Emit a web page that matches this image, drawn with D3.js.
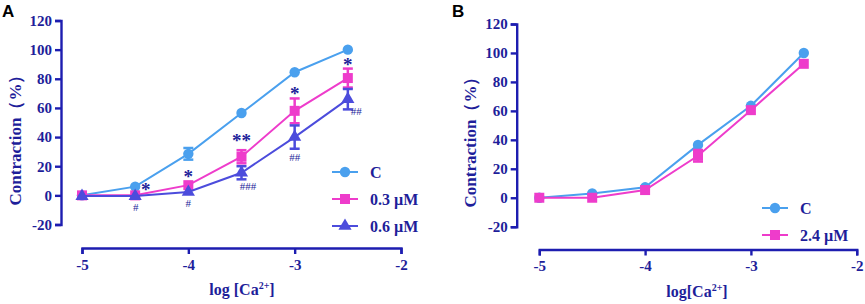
<!DOCTYPE html>
<html>
<head>
<meta charset="utf-8">
<script src="https://cdn.jsdelivr.net/npm/d3@7"></script>
<style>
  body { margin: 0; background: #fff; }
  svg text { font-family: "Liberation Serif", "Times New Roman", serif; font-weight: bold; }
</style>
</head>
<body>
<div id="chart"></div>
<script>
// log[Ca2+] concentrations
var logCa = [-5, -4.5, -4, -3.5, -3, -2.5];
var xTicks = [-5, -4, -3, -2];
var yTicks = [-20, 0, 20, 40, 60, 80, 100, 120];

// panel A series (mean, error)
var aControl = [0, 6, 28.5, 56.5, 84.5, 100];
var aControlErr = [0, 0, 4, 0, 0, 0];
var a03 = [0, 0, 7, 26.5, 58, 80.5];
var a03Err = [0, 0, 0, 4.5, 8.5, 6.5];
var a06 = [-0.5, -0.5, 2.3, 15.5, 40, 66];
var a06Err = [0, 0, 0, 4.5, 8, 7];

// panel B series
var bControl = [0, 3, 7.2, 36.5, 63.5, 100];
var b24 = [0, 0, 5.3, 29, 60.5, 92.5];
var b24Err = [0, 0, 0, 4, 0, 0];

// significance marks, [text, x, y] in data units
var starMarks = [["*", -2.5, 91.8], ["*", -3, 71.7], ["**", -3.5, 40], ["*", -4, 15.3], ["*", -4.4, 5.8]];
var hashMarks = [["##", -2.42, 57.4], ["##", -3, 26.4], ["###", -3.44, 6], ["#", -4, -5.2], ["#", -4.495, -8]];

var navy = "#1e1e9a";
var axisBlue = "#1d1db0";
var cBlue = "#4aa0ee";
var pink = "#ee3ccb";
var violet = "#4c4cdc";
var serif = "'Liberation Serif', 'Times New Roman', serif";

var svg = d3.select("#chart").append("svg")
  .attr("width", 865)
  .attr("height", 304);

function drawPanel(opt) {
  var x = d3.scaleLinear().domain([-5, -2]).range(opt.xRange);
  var y = d3.scaleLinear().domain([-20, 120]).range(opt.yRange);
  var g = svg.append("g");

  // y axis, offset left of plot
  var yAx = g.append("g")
    .attr("transform", "translate(" + opt.yAxisX + ",0)")
    .call(d3.axisLeft(y).tickValues(yTicks).tickSize(6).tickPadding(3).tickFormat(function (d) { return String(d); }));
  // x axis, offset below plot
  var xAx = g.append("g")
    .attr("transform", "translate(0," + opt.xAxisY + ")")
    .call(d3.axisBottom(x).tickValues(xTicks).tickSize(6).tickPadding(5).tickFormat(function (d) { return String(d); }));

  [yAx, xAx].forEach(function (ax) {
    ax.attr("font-family", serif).attr("font-size", 15).attr("font-weight", "bold");
    ax.select(".domain").attr("stroke", axisBlue).attr("stroke-width", 2.4);
    ax.selectAll(".tick line").attr("stroke", axisBlue).attr("stroke-width", 2.4);
    ax.selectAll(".tick text").attr("fill", navy);
  });

  // y label
  g.append("text")
    .attr("transform", "translate(" + opt.yLabelX + "," + opt.yLabelY + ") rotate(-90)")
    .attr("text-anchor", "middle")
    .attr("fill", navy)
    .attr("font-size", 17)
    .text("Contraction（%）");

  // x label
  var xl = g.append("text")
    .attr("x", opt.xLabelX)
    .attr("y", opt.xLabelY)
    .attr("text-anchor", "middle")
    .attr("fill", navy)
    .attr("font-size", 16);
  xl.append("tspan").text(opt.xLabelPrefix);
  xl.append("tspan").attr("dy", -6).attr("font-size", 10).text("2+");
  xl.append("tspan").attr("dy", 6).text("]");

  // panel letter
  g.append("text")
    .attr("x", opt.letterX)
    .attr("y", 17)
    .attr("fill", "#000")
    .style("font-family", "'Liberation Sans', Arial, sans-serif")
    .attr("font-size", 17)
    .text(opt.letter);

  var line = d3.line()
    .x(function (d, i) { return x(logCa[i]); })
    .y(function (d) { return y(d); });

  opt.series.forEach(function (s) {
    g.append("path")
      .datum(s.values)
      .attr("d", line)
      .attr("fill", "none")
      .attr("stroke", s.color)
      .attr("stroke-width", 2);

    // error bars
    s.values.forEach(function (v, i) {
      var e = s.err ? s.err[i] : 0;
      if (!e) return;
      var cx = x(logCa[i]);
      g.append("line").attr("x1", cx).attr("x2", cx).attr("y1", y(v - e)).attr("y2", y(v + e))
        .attr("stroke", s.color).attr("stroke-width", 2.5);
      [v - e, v + e].forEach(function (t) {
        g.append("line").attr("x1", cx - 5).attr("x2", cx + 5).attr("y1", y(t)).attr("y2", y(t))
          .attr("stroke", s.color).attr("stroke-width", 2.5);
      });
    });

    // markers
    g.selectAll(null)
      .data(s.values)
      .enter().append("path")
      .attr("transform", function (d, i) { return "translate(" + x(logCa[i]) + "," + y(d) + ")"; })
      .attr("d", d3.symbol().type(s.symbol).size(s.size))
      .attr("fill", s.color);
  });

  // legend
  opt.series.forEach(function (s, i) {
    var ly = opt.legendY + i * opt.legendGap;
    g.append("line")
      .attr("x1", opt.legendX).attr("x2", opt.legendX + 26)
      .attr("y1", ly).attr("y2", ly)
      .attr("stroke", s.color).attr("stroke-width", 2);
    g.append("path")
      .attr("transform", "translate(" + (opt.legendX + 13) + "," + ly + ")")
      .attr("d", d3.symbol().type(s.symbol).size(s.size))
      .attr("fill", s.color);
    g.append("text")
      .attr("x", opt.legendX + 38)
      .attr("y", ly + 5.5)
      .attr("fill", navy)
      .attr("font-size", 16)
      .text(s.name);
  });

  return { g: g, x: x, y: y };
}

var pa = drawPanel({
  xRange: [82, 401], yRange: [224.5, 20.5],
  yAxisX: 61, xAxisY: 248,
  yLabelX: 21, yLabelY: 136,
  xLabelX: 242, xLabelY: 295, xLabelPrefix: "log [Ca",
  letter: "A", letterX: 2,
  legendX: 332, legendY: 172, legendGap: 27,
  series: [
    { name: "C", values: aControl, err: aControlErr, color: cBlue, symbol: d3.symbolCircle, size: 85 },
    { name: "0.3 µM", values: a03, err: a03Err, color: pink, symbol: d3.symbolSquare, size: 100 },
    { name: "0.6 µM", values: a06, err: a06Err, color: violet, symbol: d3.symbolTriangle, size: 75 }
  ]
});

starMarks.forEach(function (m) {
  pa.g.append("text")
    .attr("x", pa.x(m[1])).attr("y", pa.y(m[2]))
    .attr("dy", "0.5em")
    .attr("text-anchor", "middle")
    .attr("fill", navy)
    .attr("font-size", 19)
    .text(m[0]);
});
hashMarks.forEach(function (m) {
  pa.g.append("text")
    .attr("x", pa.x(m[1])).attr("y", pa.y(m[2]))
    .attr("dy", "0.34em")
    .attr("text-anchor", "middle")
    .attr("fill", navy)
    .attr("font-size", 11)
    .style("font-weight", "normal")
    .text(m[0]);
});

drawPanel({
  xRange: [539.3, 856.7], yRange: [226.7, 24],
  yAxisX: 516.7, xAxisY: 249.5,
  yLabelX: 476, yLabelY: 138,
  xLabelX: 697, xLabelY: 297, xLabelPrefix: "log[Ca",
  letter: "B", letterX: 452,
  legendX: 762, legendY: 208, legendGap: 27,
  series: [
    { name: "C", values: bControl, color: cBlue, symbol: d3.symbolCircle, size: 85 },
    { name: "2.4 µM", values: b24, err: b24Err, color: pink, symbol: d3.symbolSquare, size: 100 }
  ]
});
</script>
</body>
</html>
